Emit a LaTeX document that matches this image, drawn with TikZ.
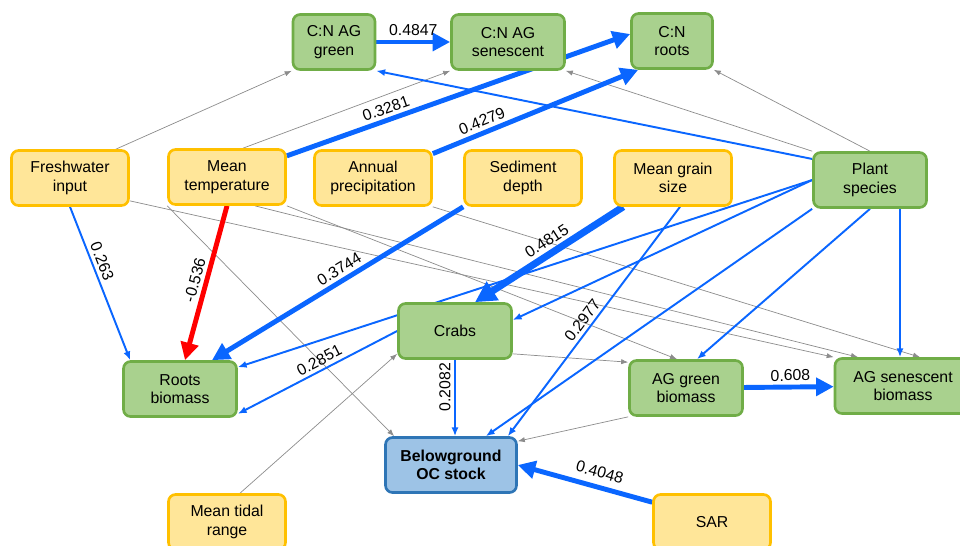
\documentclass[tikz,border=0pt]{standalone}
\usepackage{fontspec}
\setmainfont{Liberation Sans}
\usepackage{xcolor}
\usetikzlibrary{arrows.meta,backgrounds}

\definecolor{yfill}{HTML}{FFE699}
\definecolor{ydraw}{HTML}{FFC000}
\definecolor{gfill}{HTML}{A9D18E}
\definecolor{gdraw}{HTML}{70AD47}
\definecolor{bfill}{HTML}{9DC3E6}
\definecolor{bdraw}{HTML}{2E75B6}
\definecolor{eblue}{HTML}{0A66FF}
\definecolor{egray}{HTML}{8C8C8C}

\tikzset{
	box/.style={rounded corners=4pt, line width=1.5pt, align=center, minimum height=1.1cm, inner sep=2pt, font=\fontsize{9}{10.5}\selectfont},
	inp/.style={box, fill=yfill, draw=ydraw, minimum width=2.34cm},
	var/.style={box, fill=gfill, draw=gdraw, minimum width=2.26cm},
	res/.style={box, fill=bfill, draw=bdraw, minimum width=2.62cm, font=\fontsize{9}{10.5}\selectfont\bfseries},
	bline/.style={draw=eblue, line width=1.1pt, -{Latex[length=5pt,width=4pt]}},
	bbold/.style={draw=eblue, line width=2.8pt, -{Triangle[length=10pt,width=10pt]}},
	bheavy/.style={draw=eblue, line width=4pt, -{Triangle[length=12pt,width=12pt]}},
	rarrow/.style={draw=red, line width=2.8pt, -{Triangle[length=10pt,width=10pt]}},
	gline/.style={draw=egray, line width=0.4pt, -{Latex[length=4pt,width=3pt]}},
	lbl/.style={font=\fontsize{9}{10}\selectfont, sloped, above, inner sep=2pt},
}

\begin{document}
\begin{tikzpicture}
	\useasboundingbox (0,0) rectangle (19.2,-10.9);
	% top row
	\node[var, minimum width=1.64cm] at (6.68,-0.84) (cng) {C:N AG\\green};
	\node[var] at (10.16,-0.84) (cns) {C:N AG\\senescent};
	\node[var, minimum width=1.62cm] at (13.44,-0.82) (cnr) {C:N\\roots};
	% drivers
	\node[inp] at (1.4,-3.56) (fw) {Freshwater\\input};
	\node[inp] at (4.54,-3.54) (mt) {Mean\\temperature};
	\node[inp] at (7.46,-3.56) (ap) {Annual\\precipitation};
	\node[inp] at (10.46,-3.56) (sd) {Sediment\\depth};
	\node[inp] at (13.46,-3.56) (mg) {Mean grain\\size};
	\node[var] at (17.4,-3.6) (ps) {Plant\\species};
	% middle
	\node[var] at (9.1,-6.62) (crabs) {Crabs};
	\node[var] at (3.6,-7.78) (rb) {Roots\\biomass};
	\node[var] at (13.72,-7.76) (agg) {AG green\\biomass};
	\node[var, minimum width=2.72cm] at (18.06,-7.72) (ags) {AG senescent\\biomass};
	% bottom
	\node[res] at (9.02,-9.3) (bg) {Belowground\\OC stock};
	\node[inp] at (4.54,-10.44) (tide) {Mean tidal\\range};
	\node[inp] at (14.24,-10.44) (sar) {SAR};

	\begin{pgfonlayer}{background}
	% non-significant paths
	\draw[gline] ([xshift=-0.28cm]fw.north east) -- (cng.south west);
	\draw[gline] ([xshift=0.32cm]mt.north) -- (cns.south west);
	\draw[gline] (ps.north west) -- (cns.south east);
	\draw[gline] (ps.north) -- (cnr.south east);
	\draw[gline] (mt.south west) -- ([xshift=0.2cm]bg.north west);
	\draw[gline] ([xshift=0.26cm]tide.north) -- ([yshift=0.12cm]crabs.south west);
	\draw[gline] ([yshift=0.12cm]crabs.south east) -- ([yshift=-0.06cm]agg.north west);
	\draw[gline] (agg.south west) -- ([yshift=-0.1cm]bg.north east);
	\draw[gline] ([yshift=0.12cm]fw.south east) -- (ags.north west);
	\draw[gline] (mt.south east) -- ([xshift=-0.18cm]agg.north);
	\draw[gline] ([xshift=0.56cm]mt.south) -- ([xshift=-0.9cm]ags.north);
	\draw[gline] (ap.south east) -- ([xshift=0.34cm]ags.north);
	% significant paths
	\draw[bbold] (cng) -- node[lbl]{0.4847} (cns);
	\draw[bbold] (mt) -- node[lbl,pos=0.3]{0.3281} ([yshift=0.14cm]cnr.west);
	\draw[bbold] (ap) -- node[lbl,pos=0.26]{0.4279} ([xshift=0.16cm]cnr.south west);
	\draw[bline] (ps.160) -- (cng.south east);
	\draw[bline] (fw.south) -- node[lbl,pos=0.38]{0.263} ([xshift=0.16cm]rb.north west);
	\draw[rarrow] (mt.south) -- node[lbl]{-0.536} ([xshift=0.1cm]rb.north);
	\draw[bbold] (sd.south west) -- node[lbl,pos=0.47]{0.3744} ([xshift=0.64cm]rb.north);
	\draw[bheavy] ([xshift=0.2cm]mg.south west) -- node[lbl,pos=0.47]{0.4815} ([xshift=0.4cm]crabs.north);
	\draw[bline] ([xshift=0.14cm]mg.south) -- node[lbl,pos=0.52]{0.2977} ([xshift=-0.2cm]bg.north east);
	\draw[bline] (ps.west) -- ([yshift=0.22cm]crabs.east);
	\draw[bline] (ps.west) -- ([yshift=-0.14cm]rb.north east);
	\draw[bline] (crabs.west) -- node[lbl,pos=0.46]{0.2851} ([yshift=0.08cm]rb.south east);
	\draw[bline] (crabs.south) -- node[font=\fontsize{9}{10}\selectfont, rotate=90, above, inner sep=2pt, pos=0.36]{0.2082} (crabs.south |- bg.north);
	\draw[bline] (ps.south west) -- ([xshift=-0.64cm]bg.north east);
	\draw[bline] (ps.south) -- ([xshift=0.22cm]agg.north);
	\draw[bline] ([xshift=0.6cm]ps.south) -- ([xshift=0.6cm]ps.south |- ags.north);
	\draw[bbold] (agg) -- node[lbl,pos=0.52]{0.608} (ags);
	\draw[bbold] ([yshift=-0.18cm]sar.north west) -- node[lbl,pos=0.42,inner sep=4pt]{0.4048} (bg.east);
	\end{pgfonlayer}
\end{tikzpicture}
\end{document}
